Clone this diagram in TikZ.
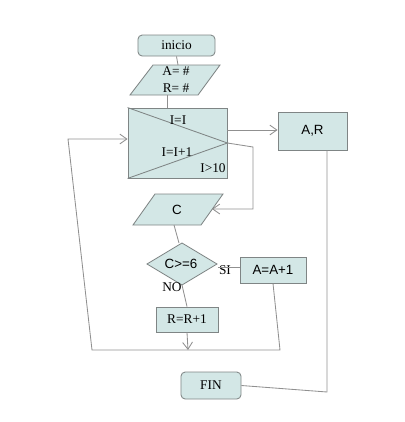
\documentclass[tikz,border=0pt]{standalone}
\usepackage{fontspec}
\setmainfont{Liberation Serif}
\newfontfamily\sansf{Liberation Sans}
\usetikzlibrary{arrows.meta}
\definecolor{boxfill}{HTML}{D3E7E6}
\definecolor{boxline}{HTML}{7F8585}
\definecolor{conn}{HTML}{909090}
\begin{document}
\begin{tikzpicture}[x=0.025cm,y=-0.025cm,
  shp/.style={draw=boxline,fill=boxfill,line width=0.6pt},
  rbox/.style={shp,rectangle,inner sep=0pt},
  txt/.style={inner sep=0pt,font=\fontsize{9.5}{11}\selectfont},
  stxt/.style={inner sep=0pt,font=\sansf\fontsize{9.5}{11}\selectfont},
  cn/.style={draw=conn,line width=0.6pt},
  arr/.style={cn,-{Straight Barb[length=5pt,width=7pt]}}]
\useasboundingbox (0,0) rectangle (405,422);
% inicio
\node[rbox,rounded corners=3pt,minimum width=1.925cm,minimum height=0.525cm,txt] (ini) at (176.5,45.5) {inicio};
% A=# R=# parallelogram
\draw[shp] (130,95) -- (153,65) -- (220,65) -- (198,95) -- cycle;
\node[txt,align=center] (in1) at (176,80) {A= \#\\[1pt]R= \#};
\coordinate (in1t) at (178,65);
\coordinate (in1b) at (167,95);
% loop box
\node[rbox,minimum width=2.475cm,minimum height=1.75cm] (lp) at (177.5,143) {};
\draw[boxline,line width=0.6pt] (lp.north west) -- (lp.east) -- (lp.south west);
\node[txt] (l1) at (178,120) {I=I};
\node[txt] (l2) at (177,152) {I=I+1};
\node[txt] (l3) at (213,168) {I>10};
% A,R
\node[rbox,minimum width=1.725cm,minimum height=0.95cm,stxt] (ar) at (312.5,131) {A,R};
% C parallelogram
\draw[shp] (133,225) -- (155,194) -- (223,194) -- (201,225) -- cycle;
\node[stxt] (c) at (177,210) {C};
\coordinate (cr) at (212,209);
\coordinate (cb) at (174,225);
% diamond
\draw[shp] (147,264) -- (182,243) -- (217,264) -- (182,285) -- cycle;
\node[stxt] (d) at (181,264) {C>=6};
\coordinate (dt) at (179,243);
\coordinate (dr) at (218,267);
\coordinate (db) at (182,285);
\node[txt] (si) at (225,270) {SI};
\node[txt] (no) at (172,287) {NO};
% A=A+1
\node[rbox,minimum width=1.65cm,minimum height=0.65cm,stxt] (aa) at (273,270) {A=A+1};
% R=R+1
\node[rbox,minimum width=1.55cm,minimum height=0.625cm,txt] (rr) at (187,319.5) {R=R+1};
% FIN
\node[rbox,rounded corners=3pt,minimum width=1.5cm,minimum height=0.675cm,txt] (fin) at (211,385.5) {FIN};
% connectors
\draw[cn] (ini.south) -- (in1t);
\draw[cn] (in1b) -- (in1b |- lp.north);
\coordinate (lpo) at (227,130);
\draw[arr] (lpo) -- (lpo -| ar.west);
\coordinate (k1) at (253,147);
\coordinate (k2) at (253,209);
\draw[arr] (lp.east) -- (k1) -- (k2) -- (cr);
\draw[cn] (cb) -- (dt);
\draw[cn] (dr) -- (dr -| aa.west);
\draw[cn] (db) -- (rr.north);
\coordinate (j1) at (188,350);
\draw[arr] (rr.south) -- (j1);
\coordinate (b1) at (280,350);
\coordinate (b2) at (92,350);
\coordinate (b3) at (68,139);
\draw[arr] (aa.south) -- (b1) -- (b2) -- (b3) -- (b3 -| lp.west);
\coordinate (f1) at (327,392);
\draw[cn] (ar.south -| f1) -- (f1) -- (fin.east);
\end{tikzpicture}
\end{document}
